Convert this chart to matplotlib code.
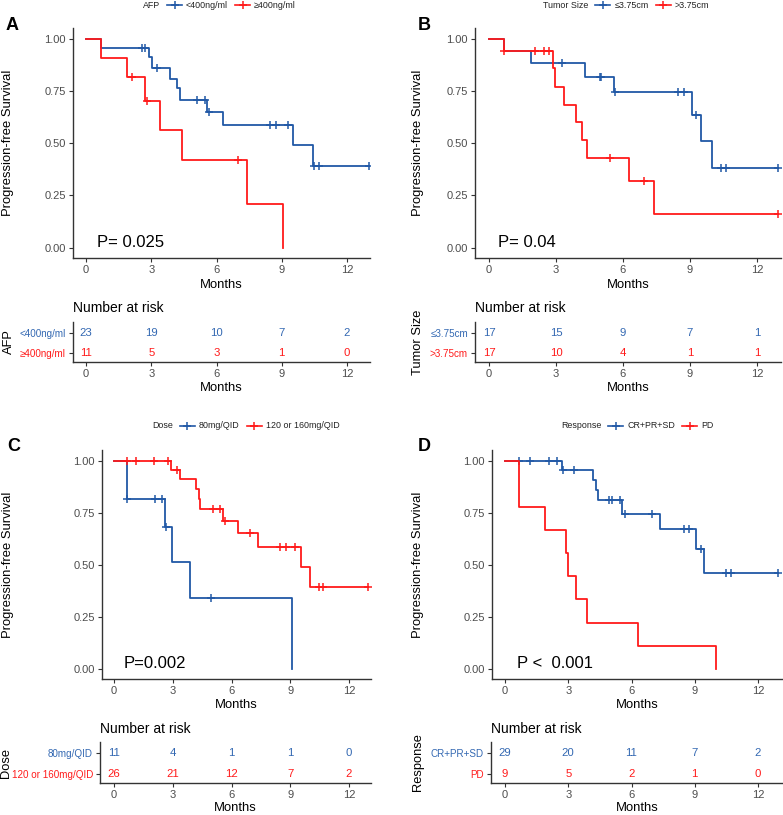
import numpy as np
import matplotlib
matplotlib.use("Agg")
import matplotlib.pyplot as plt
from matplotlib.lines import Line2D
from matplotlib.ticker import FormatStrFormatter

plt.rcParams['font.family'] = ['Liberation Sans', 'DejaVu Sans']

BLUE = "#2158A6"
BLUE_TXT = "#3368B2"
RED = "#FF1A1A"

# ---- data (months, survival) ----
# A: AFP
a_blue_t = [0, 0.69, 2.9, 3.02, 3.87, 4.17, 4.3, 5.58, 6.28, 9.5, 10.42, 13.0]
a_blue_s = [1.0, 0.957, 0.914, 0.861, 0.81, 0.764, 0.71, 0.651, 0.587, 0.49, 0.39, 0.39]
a_blue_cens = [2.56, 2.72, 3.28, 5.09, 5.48, 5.66, 8.47, 8.75, 9.27, 10.47, 10.7, 13.0]
a_red_t = [0, 0.7, 1.87, 2.72, 3.42, 4.4, 7.4, 9.08]
a_red_s = [1.0, 0.909, 0.818, 0.705, 0.563, 0.42, 0.21, 0.0]
a_red_cens = [2.1, 2.79, 6.97]
a_risk_blue = [23, 19, 10, 7, 2]
a_risk_red = [11, 5, 3, 1, 0]

# B: tumor size
b_blue_t = [0, 0.68, 1.89, 4.28, 5.58, 9.1, 9.5, 9.97, 12.93]
b_blue_s = [1.0, 0.941, 0.883, 0.82, 0.745, 0.638, 0.51, 0.383, 0.383]
b_blue_cens = [3.28, 4.95, 5.02, 5.65, 8.45, 8.72, 9.25, 10.4, 10.6, 12.93]
b_red_t = [0, 0.68, 2.86, 2.97, 3.38, 3.88, 4.17, 4.37, 6.29, 7.41, 12.93]
b_red_s = [1.0, 0.941, 0.86, 0.77, 0.686, 0.60, 0.514, 0.428, 0.321, 0.161, 0.161]
b_red_cens = [0.68, 2.04, 2.46, 2.67, 5.44, 6.96, 12.93]
b_risk_blue = [17, 15, 9, 7, 1]
b_risk_red = [17, 10, 4, 1, 1]

# C: dose
c_blue_t = [0, 0.68, 2.62, 2.96, 3.86, 9.09]
c_blue_s = [1.0, 0.818, 0.68, 0.513, 0.34, 0.0]
c_blue_cens = [0.68, 2.08, 2.45, 2.67, 4.94]
c_red_t = [0, 2.89, 3.37, 4.2, 4.32, 4.39, 5.57, 6.35, 7.37, 9.53, 10.02, 12.97]
c_red_s = [1.0, 0.955, 0.911, 0.863, 0.815, 0.767, 0.711, 0.655, 0.588, 0.489, 0.391, 0.391]
c_red_cens = [0.68, 1.14, 2.06, 2.76, 3.23, 5.06, 5.43, 5.67, 6.96, 8.49, 8.76, 9.24,
              10.45, 10.67, 12.97]
c_risk_blue = [11, 4, 1, 1, 0]
c_risk_red = [26, 21, 12, 7, 2]

# D: response
d_blue_t = [0, 2.68, 4.17, 4.3, 4.39, 5.56, 7.37, 9.04, 9.46, 12.95]
d_blue_s = [1.0, 0.955, 0.91, 0.86, 0.81, 0.743, 0.671, 0.575, 0.46, 0.46]
d_blue_cens = [0.67, 1.19, 2.09, 2.49, 2.73, 3.28, 4.95, 5.06, 5.47, 5.69, 6.96, 8.48,
               8.75, 9.3, 10.49, 10.7, 12.95]
d_red_t = [0, 0.68, 1.89, 2.89, 3.01, 3.39, 3.88, 6.29, 10.02]
d_red_s = [1.0, 0.778, 0.667, 0.556, 0.444, 0.333, 0.222, 0.111, 0.0]
d_red_cens = []
d_risk_blue = [29, 20, 11, 7, 2]
d_risk_red = [9, 5, 2, 1, 0]

risk_times = [0, 3, 6, 9, 12]

W, H = 783, 815
fig = plt.figure(figsize=(W / 100, H / 100), dpi=100)


def fy(y):
    return 1 - y / H


def add_ax(l, t, r, b):
    return fig.add_axes([l / W, 1 - b / H, (r - l) / W, (b - t) / H])


def style_ax(ax):
    for s in ['top', 'right']:
        ax.spines[s].set_visible(False)
    for s in ['left', 'bottom']:
        ax.spines[s].set_color('#333333')
        ax.spines[s].set_linewidth(1.0)
    ax.tick_params(length=3, width=0.8, color='#333333', labelcolor='#4D4D4D',
                   labelsize=8, pad=2)
    ax.set_xticks(risk_times)


def surv_at(t, s, x):
    i = np.searchsorted(t, x, side='right') - 1
    return s[i]


def km_curve(ax, t, s, cens, color):
    ax.plot(t, s, drawstyle='steps-post', color=color, lw=1.3)
    if len(cens):
        ys = [surv_at(t, s, c) for c in cens]
        ax.plot(cens, ys, ls='none', marker='+', color=color, ms=6, mew=1.1)


def draw_legend(x, y, title, labels, colors):
    r = fig.canvas.get_renderer()
    t = fig.text(x / W, fy(y), title, fontsize=6.4, va='center', ha='left', color='#222222')
    x += t.get_window_extent(r).width + 7
    for lab, c in zip(labels, colors):
        fig.add_artist(Line2D([x / W, (x + 15) / W], [fy(y)] * 2, color=c, lw=1.2,
                              transform=fig.transFigure))
        fig.add_artist(Line2D([(x + 7.5) / W], [fy(y)], marker='+', color=c, ms=5.5, mew=1.1,
                              transform=fig.transFigure))
        x += 19
        t = fig.text(x / W, fy(y), lab, fontsize=6.4, va='center', ha='left', color='#222222')
        x += t.get_window_extent(r).width + 7


panels = [
    dict(letter='A', lx=6, ly=17, legx=143, legy=5, var='AFP',
         labels=['<400ng/ml', '\u2265400ng/ml'],
         main=(73, 28, 370, 258), x0=86, x12=347, ylab_x=8, months_y=285,
         tab=(73, 322, 370, 362), tab_months_y=388, nar_y=308, tab_ylab_x=9,
         pval='P= 0.025', px=0.5,
         blue=(a_blue_t, a_blue_s, a_blue_cens), red=(a_red_t, a_red_s, a_red_cens),
         risk=(a_risk_blue, a_risk_red)),
    dict(letter='B', lx=418, ly=17, legx=543, legy=5, var='Tumor Size',
         labels=['\u22643.75cm', '>3.75cm'],
         main=(475, 28, 781, 258), x0=489, x12=757, ylab_x=418, months_y=285,
         tab=(475, 322, 781, 362), tab_months_y=388, nar_y=308, tab_ylab_x=418,
         pval='P= 0.04', px=0.4,
         blue=(b_blue_t, b_blue_s, b_blue_cens), red=(b_red_t, b_red_s, b_red_cens),
         risk=(b_risk_blue, b_risk_red)),
    dict(letter='C', lx=7, ly=438, legx=152, legy=426, var='Dose',
         labels=['80mg/QID', '120 or 160mg/QID'],
         main=(102, 450, 371, 679), x0=114, x12=349, ylab_x=8, months_y=705,
         tab=(100, 742, 371, 783), tab_months_y=808, nar_y=729, tab_ylab_x=6,
         pval='P=0.002', px=0.5,
         blue=(c_blue_t, c_blue_s, c_blue_cens), red=(c_red_t, c_red_s, c_red_cens),
         risk=(c_risk_blue, c_risk_red)),
    dict(letter='D', lx=418, ly=438, legx=561, legy=426, var='Response',
         labels=['CR+PR+SD', 'PD'],
         main=(492, 450, 783, 679), x0=505, x12=758, ylab_x=418, months_y=705,
         tab=(491, 742, 783, 783), tab_months_y=808, nar_y=729, tab_ylab_x=418,
         pval='P <  0.001', px=0.57,
         blue=(d_blue_t, d_blue_s, d_blue_cens), red=(d_red_t, d_red_s, d_red_cens),
         risk=(d_risk_blue, d_risk_red)),
]

for p in panels:
    l, t, r, b = p['main']
    ax = add_ax(l, t, r, b)
    style_ax(ax)
    sc = (p['x12'] - p['x0']) / 12
    ax.set_xlim((l - p['x0']) / sc, (r - p['x0']) / sc)
    ax.set_ylim(-0.05, 1.053)
    ax.set_yticks([0, 0.25, 0.5, 0.75, 1.0])
    ax.yaxis.set_major_formatter(FormatStrFormatter('%.2f'))
    km_curve(ax, *p['blue'], BLUE)
    km_curve(ax, *p['red'], RED)
    ax.text(p['px'], 0.005, p['pval'], fontsize=12, va='baseline', ha='left')

    fig.text(p['ylab_x'] / W, fy((t + b) / 2), 'Progression-free Survival', rotation=90,
             fontsize=9.4, ha='center', va='center')
    fig.text((l + r) / 2 / W, fy(p['months_y']), 'Months', fontsize=9.4,
             ha='center', va='center')
    fig.text(p['lx'] / W, fy(p['ly']), p['letter'], fontsize=13, fontweight='bold',
             ha='left', va='top')
    draw_legend(p['legx'], p['legy'], p['var'], p['labels'], [BLUE, RED])

    # risk table
    l2, t2, r2, b2 = p['tab']
    tx = add_ax(l2, t2, r2, b2)
    style_ax(tx)
    tx.set_xlim((l2 - p['x0']) / sc, (r2 - p['x0']) / sc)
    tx.set_ylim(0.55, 2.55)
    tx.set_yticks([1, 2])
    tx.set_yticklabels([p['labels'][1], p['labels'][0]], fontsize=7.1)
    for lab, c in zip(tx.get_yticklabels(), [RED, BLUE_TXT]):
        lab.set_color(c)
    rb, rr = p['risk']
    for x, n in zip(risk_times, rb):
        tx.text(x, 2, str(n), color=BLUE_TXT, fontsize=8.2, ha='center', va='center')
    for x, n in zip(risk_times, rr):
        tx.text(x, 1, str(n), color=RED, fontsize=8.2, ha='center', va='center')
    fig.text(l2 / W, fy(p['nar_y']), 'Number at risk', fontsize=10, ha='left', va='center')
    fig.text((l2 + r2) / 2 / W, fy(p['tab_months_y']), 'Months', fontsize=9.4,
             ha='center', va='center')
    fig.text(p['tab_ylab_x'] / W, fy((t2 + b2) / 2), p['var'], rotation=90, fontsize=9.3,
             ha='center', va='center')

fig.savefig('out.png', dpi=100)
